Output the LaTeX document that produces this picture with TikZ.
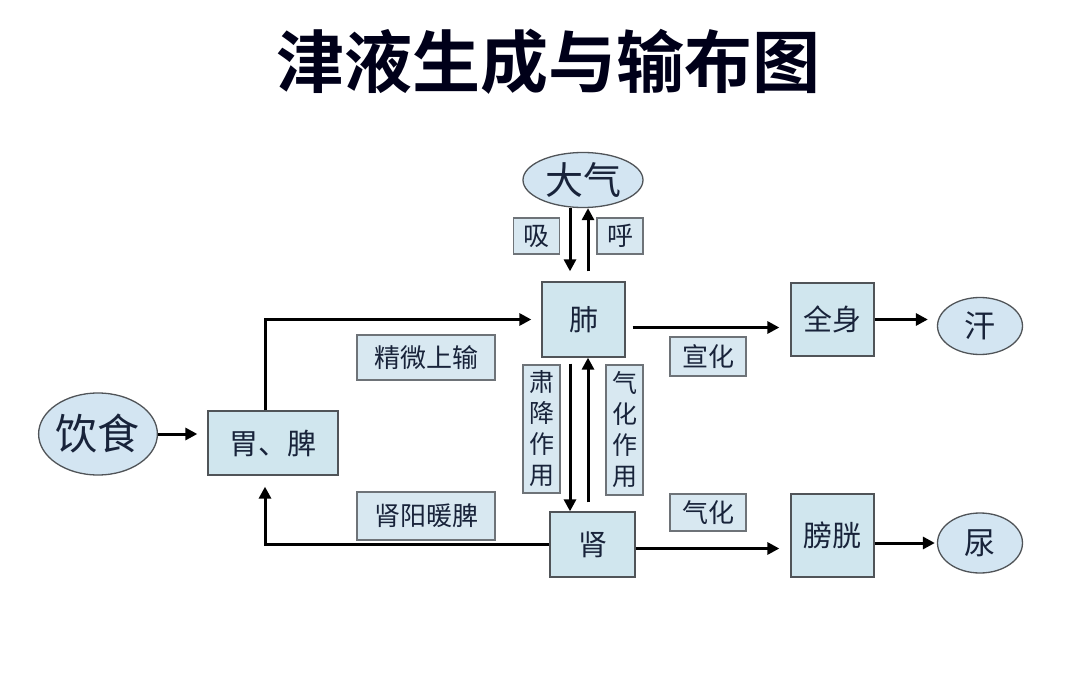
\documentclass[tikz,border=0pt]{standalone}
\usepackage{fontspec}
\setmainfont{Noto Sans CJK SC}
\newfontfamily\titlefont{Noto Sans CJK SC Bold}
\usetikzlibrary{shapes.geometric,arrows.meta}
\definecolor{boxfill}{HTML}{D0E6EE}
\definecolor{ovalfill}{HTML}{D3E5F2}
\definecolor{labfill}{HTML}{D8E8F1}
\definecolor{edge}{HTML}{505458}
\definecolor{labedge}{HTML}{6E7378}
\definecolor{ink}{HTML}{18233A}
\tikzset{
  boxn/.style={draw=edge, fill=boxfill, line width=1.3pt, inner sep=0pt, text=ink, font=\fontsize{29}{32}\selectfont},
  labn/.style={draw=labedge, fill=labfill, line width=1.1pt, inner sep=0pt, text=ink, font=\fontsize{26}{28}\selectfont},
  ovaln/.style={ellipse, draw=edge, fill=ovalfill, line width=1.3pt, inner sep=0pt, text=ink},
  arr/.style={line width=3pt, -{Triangle[length=12pt,width=12pt]}, black},
  ln/.style={line width=3pt, black}
}
\begin{document}
\begin{tikzpicture}[x=1pt,y=-1pt]
\useasboundingbox (0,0) rectangle (1080,682);
\fill[white] (0,0) rectangle (1080,682);
% title
\node[font=\titlefont\fontsize{68}{68}\selectfont, text=black!90!blue] (title) at (548,62) {津液生成与输布图};
% nodes
\node[ovaln, minimum width=120pt, minimum height=55pt, font=\fontsize{38}{38}\selectfont] (daqi) at (583,180) {大气};
\node[labn, minimum width=46pt, minimum height=36pt] (xi) at (536.5,236) {吸};
\node[labn, minimum width=46pt, minimum height=36pt] (hu) at (620,236) {呼};
\node[boxn, minimum width=83pt, minimum height=75pt] (fei) at (583.5,319.5) {肺};
\node[labn, minimum width=37pt, minimum height=128pt, align=center, font=\fontsize{25}{31}\selectfont] (sj) at (541.5,429) {肃\\降\\作\\用};
\node[labn, minimum width=37pt, minimum height=130pt, align=center, font=\fontsize{25}{31}\selectfont] (qhzy) at (624.5,430) {气\\化\\作\\用};
\node[boxn, minimum width=85pt, minimum height=65pt] (shen) at (592.5,544.5) {肾};
\node[boxn, minimum width=130pt, minimum height=64pt] (wp) at (273,443) {胃、脾};
\node[ovaln, minimum width=110pt, minimum height=82pt, font=\fontsize{42}{42}\selectfont] (ys) at (98,434) {饮食};
\node[labn, minimum width=138pt, minimum height=45pt] (jw) at (426,357.5) {精微上输};
\node[labn, minimum width=138pt, minimum height=48pt] (syn) at (426,516) {肾阳暖脾};
\node[boxn, minimum width=83pt, minimum height=73pt] (qs) at (832.5,319.5) {全身};
\node[ovaln, minimum width=85pt, minimum height=57pt, font=\fontsize{31}{31}\selectfont] (han) at (980,326) {汗};
\node[labn, minimum width=76pt, minimum height=39pt] (xh) at (708,356.5) {宣化};
\node[labn, minimum width=76pt, minimum height=37pt] (qh) at (708,512.5) {气化};
\node[boxn, minimum width=83pt, minimum height=83pt] (pg) at (832.5,535.5) {膀胱};
\node[ovaln, minimum width=85pt, minimum height=60pt, font=\fontsize{31}{31}\selectfont] (niao) at (980,543) {尿};
% helper x positions
\coordinate (xd) at (570,0);
\coordinate (xu) at (588,0);
\coordinate (xl) at (265,0);
% connectors
\draw[arr, shorten >=10pt] (xd |- daqi.south) -- (xd |- fei.north);
\draw[arr, shorten <=10pt] (xu |- fei.north) -- (xu |- daqi.south);
\draw[arr, shorten <=6pt] (xd |- fei.south) -- (xd |- shen.north);
\draw[arr, shorten <=9pt] (xu |- shen.north) -- (xu |- fei.south);
\draw[arr, shorten >=10pt] (xl |- wp.north) |- (fei.west);
\draw[arr, shorten >=11pt] (shen.west) -| (xl |- wp.south);
\draw[arr, shorten >=10pt] (ys.east) -- (ys.east -| wp.west);
\draw[arr, shorten <=7pt, shorten >=11pt] ([yshift=-8pt]fei.east) -- ([yshift=-8pt]fei.east -| qs.west);
\draw[arr, shorten >=9pt] (qs.east) -- (qs.east -| han.west);
\draw[arr, shorten >=11pt] ([yshift=-4pt]shen.east) -- ([yshift=-4pt]shen.east -| pg.west);
\draw[arr, shorten >=2pt] (pg.east |- niao.west) -- (niao.west);
\end{tikzpicture}
\end{document}
